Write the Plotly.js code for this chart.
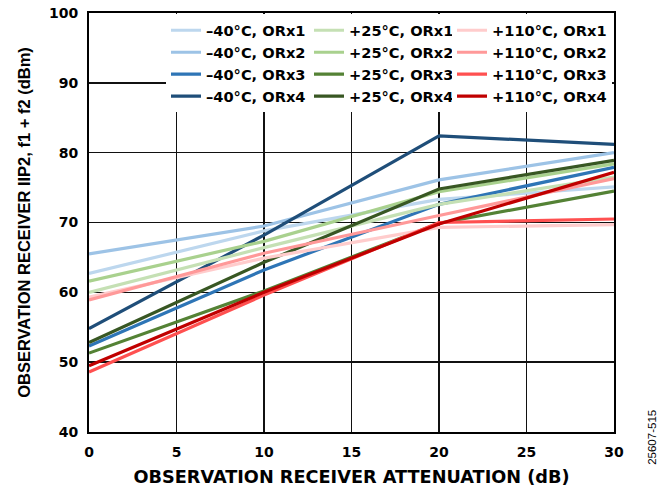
<!DOCTYPE html>
<html>
<head>
<meta charset="utf-8">
<script src="https://cdn.plot.ly/plotly-3.0.1.min.js"></script>
<style>html,body{margin:0;padding:0;background:#fff;}#chart{width:669px;height:493px;}</style>
</head>
<body>
<div id="chart"></div>
<script>
// Observation receiver attenuation (dB)
const atten = [0, 10, 20, 30];

// -40°C
const m40_orx1 = [62.7, 68.8, 73.3, 75.1];
const m40_orx2 = [65.5, 69.5, 76.1, 80.0];
const m40_orx3 = [52.3, 63.2, 72.6, 77.9];
const m40_orx4 = [54.8, 68.2, 82.4, 81.2];
// +25°C
const p25_orx1 = [60.0, 66.4, 72.6, 76.5];
const p25_orx2 = [61.6, 67.3, 74.4, 78.4];
const p25_orx3 = [51.3, 60.2, 69.9, 74.5];
const p25_orx4 = [52.8, 64.3, 74.8, 78.9];
// +110°C
const p110_orx1 = [59.3, 64.9, 69.3, 69.7];
const p110_orx2 = [58.9, 65.6, 71.0, 76.3];
const p110_orx3 = [48.6, 59.6, 70.0, 70.5];
const p110_orx4 = [49.5, 60.0, 69.8, 77.2];

const seriesNames = [
  ['–40°C, ORx1','–40°C, ORx2','–40°C, ORx3','–40°C, ORx4'],
  ['+25°C, ORx1','+25°C, ORx2','+25°C, ORx3','+25°C, ORx4'],
  ['+110°C, ORx1','+110°C, ORx2','+110°C, ORx3','+110°C, ORx4']
];
const seriesData = [
  [m40_orx1, m40_orx2, m40_orx3, m40_orx4],
  [p25_orx1, p25_orx2, p25_orx3, p25_orx4],
  [p110_orx1, p110_orx2, p110_orx3, p110_orx4]
];
const seriesColors = [
  ['#bdd7ee','#9dc3e6','#2e75b6','#1f4e79'],
  ['#c5e0b4','#a9d18e','#548235','#385723'],
  ['#ffcccc','#ff9999','#ff5050','#c00000']
];
const legendIds = ['legend','legend2','legend3'];

const traces = [];
for (let g = 0; g < 3; g++) {
  for (let i = 0; i < 4; i++) {
    traces.push({
      x: atten, y: seriesData[g][i], name: seriesNames[g][i],
      type: 'scatter', mode: 'lines',
      line: {color: seriesColors[g][i], width: 3.2},
      legend: legendIds[g]
    });
  }
}

const fam = 'Liberation Sans, Arial, sans-serif';
const wide = 'DejaVu Sans, sans-serif';
const legFont = {family: wide, size: 14.6, color: '#000', weight: 'bold'};
function leg(xpx) {
  return {x: (xpx - 89) / 525, y: 0.997, xanchor: 'left', yanchor: 'top',
    bgcolor: '#ffffff', borderwidth: 0, font: legFont, itemwidth: 30,
    tracegroupgap: 0};
}

const layout = {
  width: 669, height: 493,
  margin: {l: 89, r: 55, t: 13, b: 61},
  paper_bgcolor: '#fff', plot_bgcolor: '#fff',
  showlegend: true,
  legend: leg(166),
  legend2: leg(309),
  legend3: leg(452),
  xaxis: {
    range: [0, 30], dtick: 5, tick0: 0,
    showgrid: true, gridcolor: '#111', gridwidth: 1.6,
    showline: true, mirror: true, linecolor: '#000', linewidth: 2,
    zeroline: false, ticks: '', ticklabelstandoff: 6,
    tickfont: {family: wide, size: 14, color: '#000', weight: 'bold'},
    title: {text: 'OBSERVATION RECEIVER ATTENUATION (dB)', standoff: 12,
      font: {family: wide, size: 17.7, color: '#000', weight: 'bold'}}
  },
  yaxis: {
    range: [40, 100], dtick: 10, tick0: 40,
    showgrid: true, gridcolor: '#111', gridwidth: 1.6,
    showline: true, mirror: true, linecolor: '#000', linewidth: 2,
    zeroline: false, ticks: '', ticklabelstandoff: 6,
    tickfont: {family: wide, size: 14, color: '#000', weight: 'bold'},
    title: {text: 'OBSERVATION RECEIVER IIP2, f1 + f2 (dBm)', standoff: 14,
      font: {family: fam, size: 16.5, color: '#000', weight: 'bold'}}
  },
  annotations: [{
    text: '25607-515', xref: 'paper', yref: 'paper',
    x: 1.072, y: -0.012, xanchor: 'center', yanchor: 'middle',
    textangle: -90, showarrow: false,
    font: {family: fam, size: 11.5, color: '#000'}
  }]
};

Plotly.newPlot('chart', traces, layout, {displayModeBar: false, staticPlot: true});
</script>
</body>
</html>
